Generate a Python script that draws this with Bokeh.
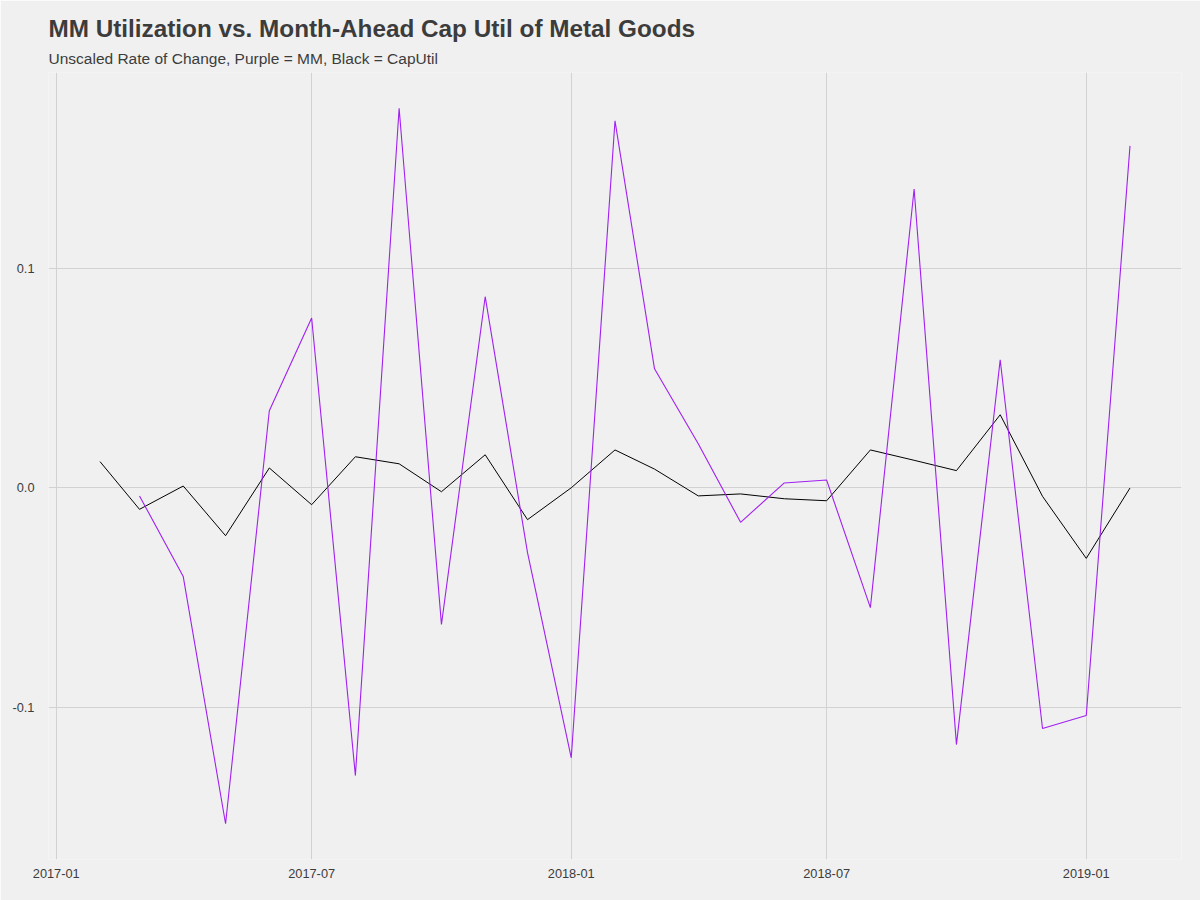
import pandas as pd
from bokeh.plotting import figure
from bokeh.models import Range1d, FixedTicker, PrintfTickFormatter, DatetimeTickFormatter, Title, ColumnDataSource
from bokeh.embed import file_html
from bokeh.resources import INLINE

cap_months = ["2017-02", "2017-03", "2017-04", "2017-05", "2017-06", "2017-07", "2017-08",
              "2017-09", "2017-10", "2017-11", "2017-12", "2018-01", "2018-02", "2018-03",
              "2018-04", "2018-05", "2018-06", "2018-07", "2018-08", "2018-09", "2018-10",
              "2018-11", "2018-12", "2019-01", "2019-02"]
cap_util = [0.0120, -0.0097, 0.0009, -0.0217, 0.0091, -0.0076, 0.0142,
            0.0110, -0.0017, 0.0151, -0.0144, 0.0001, 0.0173, 0.0086,
            -0.0036, -0.0027, -0.0049, -0.0058, 0.0173, 0.0126, 0.0079,
            0.0333, -0.0038, -0.0320, 0.0000]

mm_months = cap_months[1:]
mm_util = [-0.0036, -0.0403, -0.1527, 0.0351, 0.0773, -0.1308, 0.1727,
           -0.0621, 0.0870, -0.0294, -0.1227, 0.1670, 0.0542, 0.0201,
           -0.0156, 0.0023, 0.0036, -0.0544, 0.1360, -0.1167, 0.0583,
           -0.1094, -0.1035, 0.1556]

x_tick_labels = ["2017-01", "2017-07", "2018-01", "2018-07", "2019-01"]
y_ticks = [-0.1, 0.0, 0.1]

title_text = "MM Utilization vs. Month-Ahead Cap Util of Metal Goods"
subtitle_text = "Unscaled Rate of Change, Purple = MM, Black = CapUtil"

BG = "#F0F0F0"
DARK = "#3C3C3C"
GRID = "#D2D2D2"
PURPLE = "#A020F0"

cap_dates = pd.to_datetime(cap_months, format="%Y-%m")
mm_dates = pd.to_datetime(mm_months, format="%Y-%m")
tick_dates = pd.to_datetime(x_tick_labels, format="%Y-%m")

xmin, xmax = cap_dates.min(), cap_dates.max()
xspan = xmax - xmin
all_vals = cap_util + mm_util
ymin, ymax = min(all_vals), max(all_vals)
yspan = ymax - ymin

p = figure(width=1200, height=900, x_axis_type="datetime",
           output_backend="svg", toolbar_location=None,
           x_range=Range1d(xmin - 0.05 * xspan, xmax + 0.05 * xspan),
           y_range=Range1d(ymin - 0.05 * yspan, ymax + 0.05 * yspan),
           min_border_left=48, min_border_right=19, min_border_bottom=41, min_border_top=72)

p.background_fill_color = BG
p.border_fill_color = BG
p.outline_line_color = None

p.title.text = title_text
p.title.text_font = "Liberation Sans"
p.title.text_font_size = "24.3px"
p.title.text_font_style = "bold"
p.title.text_color = DARK
p.title.align = "left"
p.title.offset = 0
p.title.standoff = 0

sub = Title(text=subtitle_text, text_font="Liberation Sans", text_font_size="15.5px",
            text_font_style="normal", text_color=DARK, align="left", offset=0, standoff=12)
p.add_layout(sub, "above")

src_cap = ColumnDataSource(dict(x=cap_dates, y=cap_util))
src_mm = ColumnDataSource(dict(x=mm_dates, y=mm_util))
p.line("x", "y", source=src_cap, line_color="black", line_width=1)
p.line("x", "y", source=src_mm, line_color=PURPLE, line_width=1.1)

xtick_ms = [d.value / 1e6 for d in tick_dates]
p.xaxis.ticker = FixedTicker(ticks=xtick_ms)
p.xaxis.formatter = DatetimeTickFormatter(months="%Y-%m", days="%Y-%m", years="%Y-%m")
p.yaxis.ticker = FixedTicker(ticks=y_ticks)
p.yaxis.formatter = PrintfTickFormatter(format="%.1f")

for ax in (p.xaxis, p.yaxis):
    ax.axis_line_color = None
    ax.major_tick_line_color = None
    ax.minor_tick_line_color = None
    ax.major_label_text_font = "Liberation Sans"
    ax.major_label_text_font_size = "12.8px"
    ax.major_label_text_color = DARK
p.xaxis.major_label_standoff = 3
p.yaxis.major_label_standoff = 8

p.xgrid.grid_line_color = GRID
p.ygrid.grid_line_color = GRID
p.xgrid.grid_line_width = 1
p.ygrid.grid_line_width = 1

open("out.html", "w").write(file_html(p, INLINE))
